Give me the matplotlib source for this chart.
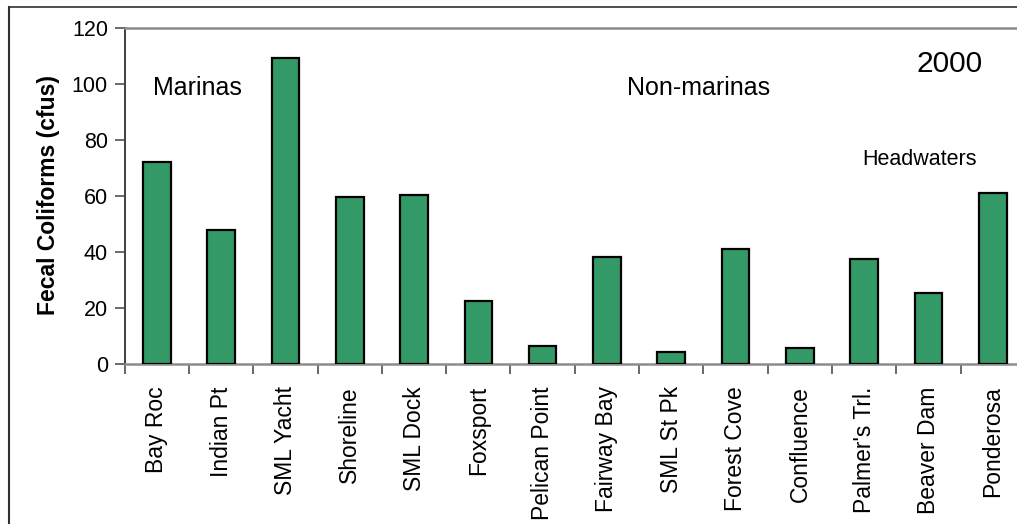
import numpy as np
import matplotlib
matplotlib.use("Agg")
import matplotlib.pyplot as plt
from matplotlib.lines import Line2D

plt.rcParams["font.family"] = ["Liberation Sans", "DejaVu Sans"]

# === Datos ===
sitios = ["Bay Roc", "Indian Pt", "SML Yacht", "Shoreline", "SML Dock",
          "Foxsport", "Pelican Point", "Fairway Bay", "SML St Pk",
          "Forest Cove", "Confluence", "Palmer's Trl.", "Beaver Dam",
          "Ponderosa"]
coliformes = [72.3, 47.9, 109.2, 59.8, 60.2, 22.5, 6.5, 38.3, 4.4,
              41.0, 5.6, 37.4, 25.5, 60.9]
y_ticks = [0, 20, 40, 60, 80, 100, 120]

W, H = 1017, 524
fig = plt.figure(figsize=(W / 100, H / 100), dpi=100)

# el área de trazado sigue más allá del borde derecho
left, right, top, bottom = 124.6, 1025.0, 28.0, 364.0
ax = fig.add_axes([left / W, 1 - bottom / H, (right - left) / W, (bottom - top) / H])

x = np.arange(len(sitios))
ax.bar(x, coliformes, width=0.43, color="#339966", edgecolor="black",
       linewidth=1.6, zorder=3)

ax.set_xlim(-0.5, len(sitios) - 0.5)
ax.set_ylim(0, 120)
ax.set_yticks(y_ticks)
ax.tick_params(axis="y", direction="out", length=7, width=1.2,
               color="#505050", labelsize=15.5, pad=5)

ax.set_xticks(x)
ax.set_xticklabels(sitios, rotation=90, fontsize=16.5)
ax.tick_params(axis="x", which="major", length=0, pad=16)
ax.set_xticks(np.arange(-0.5, len(sitios), 1), minor=True)
ax.tick_params(axis="x", which="minor", direction="out", length=7,
               width=1.2, color="#505050")

for lado in ["top", "bottom"]:
    ax.spines[lado].set_color("#8c8c8c")
    ax.spines[lado].set_linewidth(1.8)
ax.spines["left"].set_color("#404040")
ax.spines["left"].set_linewidth(1.4)
ax.spines["right"].set_visible(False)

fig.text(49 / W, 1 - 195 / H, "Fecal Coliforms (cfus)", rotation=90,
         ha="center", va="center", fontsize=16.5, fontweight="bold")

# === Etiquetas de grupos ===
ax.text(-0.06, 96, "Marinas", fontsize=18, ha="left", va="baseline")
ax.text(7.31, 96, "Non-marinas", fontsize=18, ha="left", va="baseline")
ax.text(11.82, 104.3, "2000", fontsize=21.5, ha="left", va="baseline")
ax.text(10.97, 71, "Headwaters", fontsize=15.5, ha="left", va="baseline")

# marco exterior (solo izquierda y arriba quedan dentro de la imagen)
fig.add_artist(Line2D([8.5 / W, 8.5 / W], [0, 1 - 6.5 / H],
                      transform=fig.transFigure, color="#303030", lw=1.5))
fig.add_artist(Line2D([8.5 / W, 1], [1 - 6.5 / H, 1 - 6.5 / H],
                      transform=fig.transFigure, color="#303030", lw=1.2))

fig.savefig("out.png", dpi=100)
